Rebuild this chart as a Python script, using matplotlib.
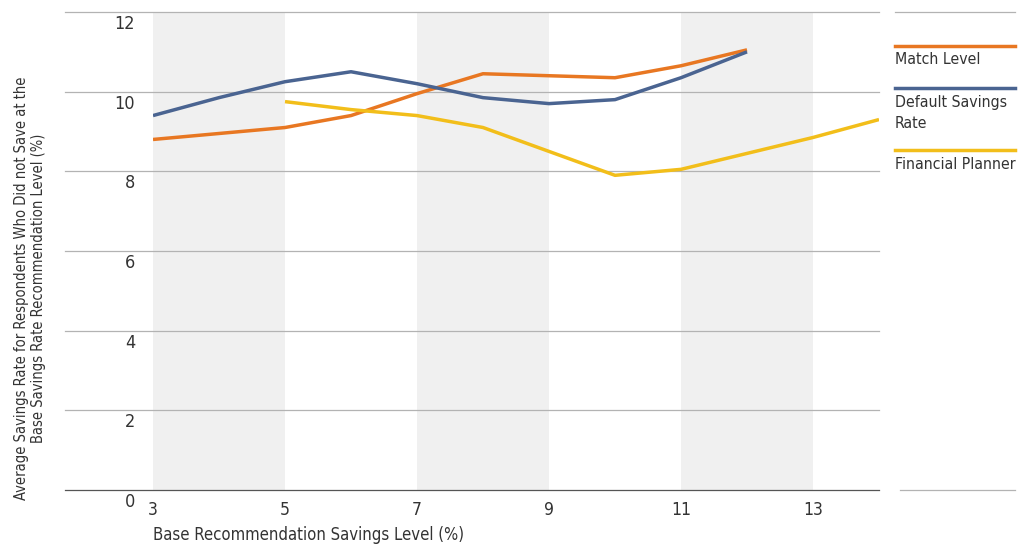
import matplotlib
matplotlib.use("Agg")
import matplotlib.pyplot as plt
from matplotlib.lines import Line2D

plt.rcParams["font.family"] = ["DejaVu Sans"]
plt.rcParams["font.stretch"] = "condensed"

x_match = [3, 4, 5, 6, 7, 8, 9, 10, 11, 12]
match_level = [8.8, 8.95, 9.1, 9.4, 9.95, 10.45, 10.4, 10.35, 10.65, 11.05]
x_default = [3, 4, 5, 6, 7, 8, 9, 10, 11, 12]
default_rate = [9.4, 9.85, 10.25, 10.5, 10.2, 9.85, 9.7, 9.8, 10.35, 11.0]
x_planner = [5, 6, 7, 8, 9, 10, 11, 12, 13, 14]
planner = [9.75, 9.55, 9.4, 9.1, 8.5, 7.9, 8.05, 8.45, 8.85, 9.3]
y_ticks = [0, 2, 4, 6, 8, 10, 12]
x_ticks = [3, 5, 7, 9, 11, 13]
bands = [(3, 5), (7, 9), (11, 13)]

ORANGE, BLUE, YELLOW = "#e87722", "#4a6491", "#f2be1a"
TEXT = "#333333"
FS = 12

fig = plt.figure(figsize=(10.19, 5.44), dpi=100)
ax = fig.add_axes([153 / 1019, 1 - 490 / 544, 726 / 1019, 478 / 544])
ax.set_xlim(3, 14)
ax.set_ylim(0, 12)

for a, b in bands:
    ax.axvspan(a, b, color="#f0f0f0", zorder=0, lw=0)

for yv in y_ticks:
    ax.add_line(Line2D([-88 / 726, 1], [yv / 12] * 2, transform=ax.transAxes,
                       color="#b3b3b3" if yv else "#555555", lw=0.9, clip_on=False, zorder=1))
    ax.text(-18 / 726, yv / 12 - 12 / 478, str(yv), transform=ax.transAxes,
            ha="right", va="center", fontsize=FS + 1, color=TEXT)

ax.plot(x_match, match_level, color=ORANGE, lw=2.5, zorder=3, solid_capstyle="butt")
ax.plot(x_default, default_rate, color=BLUE, lw=2.5, zorder=3, solid_capstyle="butt")
ax.plot(x_planner, planner, color=YELLOW, lw=2.5, zorder=3, solid_capstyle="butt")

for s in ax.spines.values():
    s.set_visible(False)
ax.set_yticks([])
ax.set_xticks(x_ticks)
ax.set_xticklabels([str(t) for t in x_ticks], fontsize=FS + 0.5, color=TEXT)
ax.tick_params(axis="x", length=0, pad=8)
ax.text(0, -45 / 478, "Base Recommendation Savings Level (%)", transform=ax.transAxes,
        ha="left", va="center", fontsize=FS, color=TEXT)
fig.text(30 / 1019, 1 - 288 / 544,
         "Average Savings Rate for Respondents Who Did not Save at the\nBase Savings Rate Recommendation Level (%)",
         rotation=90, ha="center", va="center", fontsize=10.5, color=TEXT, linespacing=1.1)

def fx(p): return p / 1019
def fy(p): return 1 - p / 544
fig.add_artist(Line2D([fx(895), fx(1015)], [fy(12)] * 2, color="#b3b3b3", lw=0.9))
fig.add_artist(Line2D([fx(900), fx(1015)], [fy(490)] * 2, color="#b3b3b3", lw=0.9))
for col, ly, ty, label in [(ORANGE, 46, 60, "Match Level"),
                           (BLUE, 88, 113, "Default Savings\nRate"),
                           (YELLOW, 150, 165, "Financial Planner")]:
    fig.add_artist(Line2D([fx(895), fx(1015)], [fy(ly)] * 2, color=col, lw=2.5))
    fig.text(fx(895), fy(ty), label, ha="left", va="center", fontsize=11.3,
             color=TEXT, linespacing=1.5)

fig.savefig("out.png", dpi=100)
